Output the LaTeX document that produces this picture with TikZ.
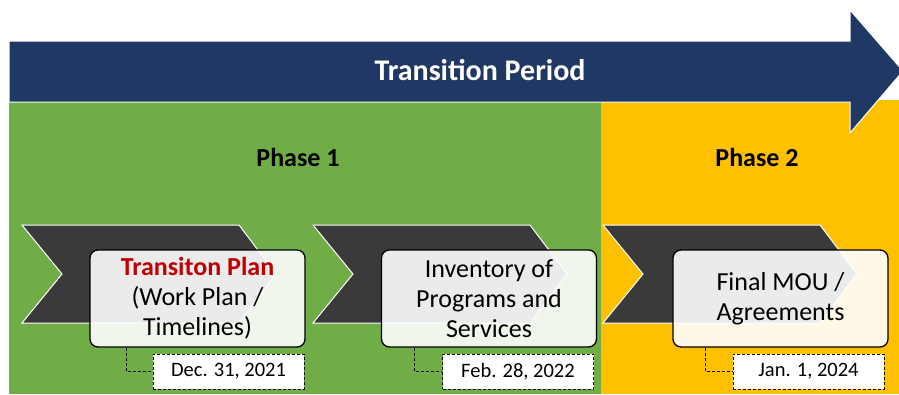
\documentclass[tikz,border=0pt]{standalone}
\usepackage{fontspec}
\setmainfont{Carlito}
\definecolor{navy}{HTML}{203864}
\definecolor{phasegreen}{HTML}{70AD47}
\definecolor{phaseyellow}{HTML}{FFC000}
\definecolor{chevgray}{HTML}{3A3A3A}
\definecolor{planred}{HTML}{C00000}
\begin{document}
\begin{tikzpicture}[x=1pt, y=-1pt]
			\tikzset{chevron/.style={fill=chevgray, draw=white, line width=1pt}};
			\tikzset{stagebox/.style={draw=black, line width=1.3pt, rounded corners=8pt, fill=white, fill opacity=0.9, text opacity=1, minimum width=215pt, minimum height=97pt, align=center, inner sep=0pt, font=\fontsize{26}{30}\selectfont}};
			\tikzset{datebox/.style={draw=black, fill=white, line width=1pt, dash pattern=on 3pt off 2pt, minimum width=151pt, minimum height=35pt, inner sep=0pt, font=\fontsize{20.5}{24}\selectfont}};
			\tikzset{datelink/.style={draw=black, line width=1pt, dash pattern=on 3pt off 2pt}};
			\tikzset{phase/.style={font=\bfseries\fontsize{26}{30}\selectfont}};
			\useasboundingbox (0,0) rectangle (899,394);

			% phase backgrounds
			\fill[phasegreen] (9,100) rectangle (601,394);
			\fill[phaseyellow] (601,100) rectangle (899,394);

			% transition arrow
			\draw[fill=navy, draw=white, line width=1pt] (9,41) -- (850,41) -- (850,10) -- (903,71) -- (850,133) -- (850,102) -- (9,102) -- cycle;
			\node[text=white, font=\bfseries\fontsize{30}{34}\selectfont] (period) at (480,70) {Transition Period};

			\node[phase] (p1) at (298,157) {Phase 1};
			\node[phase] (p2) at (757,157) {Phase 2};

			% chevrons
			\foreach \l in {22,313,603}
				\draw[chevron] (\l,225) -- ++(217,0) -- ++(37,49) -- ++(-37,49) -- ++(-217,0) -- ++(40,-49) -- cycle;

			\node[stagebox] (s1) at (197.5,298.5) {\textcolor{planred}{\textbf{Transiton Plan}}\\(Work Plan /\\Timelines)};
			\node[stagebox] (s2) at (489,298.5) {Inventory of\\Programs and\\Services};
			\node[stagebox] (s3) at (780.5,298.5) {Final MOU /\\Agreements};

			\node[datebox] (d1) at (228.5,371.5) {Dec. 31, 2021};
			\node[datebox] (d2) at (518,371.5) {Feb. 28, 2022};
			\node[datebox] (d3) at (808.5,371.5) {Jan. 1, 2024};

			\draw[datelink] ([xshift=37pt]s1.south west) |- (d1.west);
			\draw[datelink] ([xshift=34pt]s2.south west) |- (d2.west);
			\draw[datelink] ([xshift=33pt]s3.south west) |- (d3.west);
		\end{tikzpicture}
\end{document}
